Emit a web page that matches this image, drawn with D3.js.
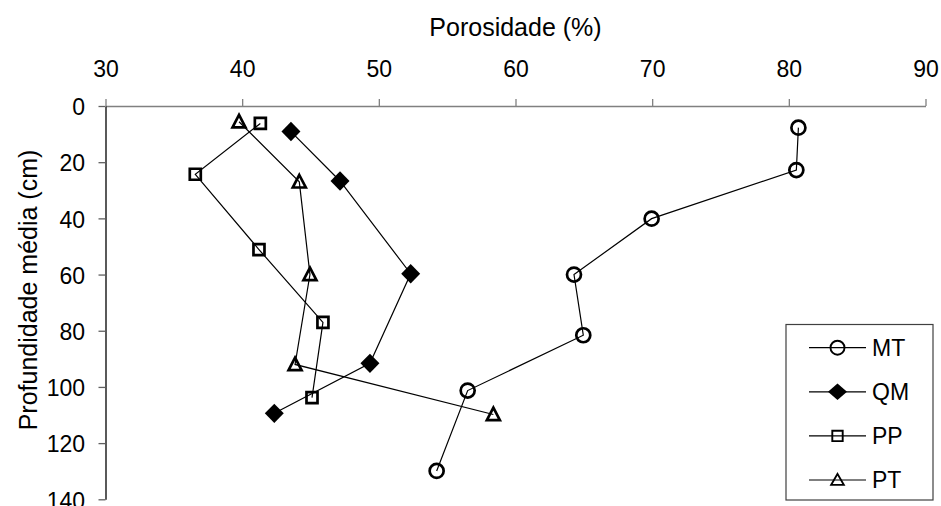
<!DOCTYPE html>
<html>
<head>
<meta charset="utf-8">
<script src="https://cdn.jsdelivr.net/npm/d3@7"></script>
<style>
  html, body { margin: 0; padding: 0; background: #fff; }
  svg { display: block; font-family: "Liberation Sans", Arial, sans-serif; }
</style>
</head>
<body>
<svg id="chart" width="941" height="506"></svg>
<script>
// Porosity (%) by mean depth (cm) for the four profiles
const seriesNames = ["MT", "QM", "PP", "PT"];

const porosityMT = [80.7, 80.55, 69.96, 64.28, 64.96, 56.5, 54.23];
const depthMT    = [7.7, 22.8, 40.1, 60.0, 81.6, 101.3, 129.9];

const porosityQM = [43.57, 47.16, 52.33, 49.35, 42.35];
const depthQM    = [9.1, 26.7, 59.7, 91.6, 109.4];

const porosityPP = [41.33, 36.57, 41.23, 45.91, 45.11];
const depthPP    = [6.2, 24.3, 51.1, 77.0, 103.8];

const porosityPT = [39.77, 44.18, 44.96, 43.87, 58.38];
const depthPT    = [5.6, 27.0, 60.0, 92.0, 109.8];

const xTicks = [30, 40, 50, 60, 70, 80, 90];
const yTicks = [0, 20, 40, 60, 80, 100, 120, 140];

const xTitle = "Porosidade (%)";
const yTitle = "Profundidade média (cm)";

const series = [
  { name: "MT", x: porosityMT, y: depthMT, shape: "circle" },
  { name: "QM", x: porosityQM, y: depthQM, shape: "diamond" },
  { name: "PP", x: porosityPP, y: depthPP, shape: "square" },
  { name: "PT", x: porosityPT, y: depthPT, shape: "triangle" }
];

const svg = d3.select("#chart");

const x = d3.scaleLinear().domain([30, 90]).range([105.5, 925.5]);
const y = d3.scaleLinear().domain([0, 140]).range([106, 499.3]);

// marker path generators (centered at 0,0)
function markerPath(shape, legend) {
  const p = d3.path();
  if (shape === "circle") {
    p.arc(0, 0, 7, 0, 2 * Math.PI);
  } else if (shape === "square") {
    const s = legend ? 5.2 : 5.5;
    p.rect(-s, -s, 2 * s, 2 * s);
  } else if (shape === "triangle") {
    const w = legend ? 6.3 : 6.5, h = legend ? 11 : 12.5;
    p.moveTo(0, -h / 2 - 0.6);
    p.lineTo(w, h / 2 - 0.6);
    p.lineTo(-w, h / 2 - 0.6);
    p.closePath();
  } else if (shape === "diamond") {
    const a = 9.5, b = legend ? 8.3 : 9.7;
    p.moveTo(0, -b);
    p.lineTo(a, 0);
    p.lineTo(0, b);
    p.lineTo(-a, 0);
    p.closePath();
  }
  return p.toString();
}

function styleMarker(sel, shape, legend) {
  if (shape === "diamond") {
    sel.attr("fill", "#000").attr("stroke", "none");
  } else {
    sel.attr("fill", "none").attr("stroke", "#000")
      .attr("stroke-width", legend ? 1.9 : 2.7)
      .attr("stroke-linejoin", "miter");
  }
}

// top axis
const xAxis = svg.append("g")
  .attr("transform", `translate(0,${y(0)})`)
  .call(d3.axisTop(x).tickValues(xTicks).tickSizeInner(7).tickSizeOuter(0).tickPadding(22.5));
xAxis.select(".domain").attr("stroke", "#808080").attr("stroke-width", 1.3);
xAxis.selectAll(".tick line").attr("stroke", "#808080").attr("stroke-width", 1.3);
xAxis.selectAll(".tick text")
  .attr("font-size", 23).attr("fill", "#000")
  .attr("font-family", "'Liberation Sans', Arial, sans-serif");

// left axis
const yAxis = svg.append("g")
  .attr("transform", `translate(${x(30)},0)`)
  .call(d3.axisLeft(y).tickValues(yTicks).tickSizeInner(7).tickSizeOuter(0).tickPadding(13.5));
yAxis.select(".domain").attr("stroke", "#000").attr("stroke-width", 1.3);
yAxis.selectAll(".tick line").attr("stroke", "#606060").attr("stroke-width", 1.3);
yAxis.selectAll(".tick text")
  .attr("font-size", 23).attr("fill", "#000").attr("dy", "0.38em")
  .attr("font-family", "'Liberation Sans', Arial, sans-serif");

// axis titles
svg.append("text")
  .attr("x", (x(30) + x(90)) / 2).attr("y", 36)
  .attr("text-anchor", "middle").attr("font-size", 25).attr("fill", "#000")
  .text(xTitle);

svg.append("text")
  .attr("transform", "translate(37,290) rotate(-90)")
  .attr("text-anchor", "middle").attr("font-size", 25).attr("fill", "#000")
  .text(yTitle);

// series lines then markers
const line = d3.line().x(d => x(d[0])).y(d => y(d[1]));

series.forEach(s => {
  const pts = s.x.map((v, i) => [v, s.y[i]]);
  svg.append("path")
    .datum(pts)
    .attr("d", line)
    .attr("fill", "none")
    .attr("stroke", "#000")
    .attr("stroke-width", 1.2);
});

series.forEach(s => {
  const pts = s.x.map((v, i) => [v, s.y[i]]);
  svg.append("g").selectAll("path")
    .data(pts)
    .join("path")
    .attr("transform", d => `translate(${x(d[0])},${y(d[1])})`)
    .attr("d", markerPath(s.shape, false))
    .call(sel => styleMarker(sel, s.shape, false));
});

// legend
const legend = svg.append("g");
legend.append("rect")
  .attr("x", 786).attr("y", 324.5).attr("width", 147).attr("height", 175.5)
  .attr("fill", "#fff").attr("stroke", "#404040").attr("stroke-width", 1.2);

const rowY = d3.scalePoint().domain(seriesNames).range([347.7, 480]);

series.forEach(s => {
  const g = legend.append("g").attr("transform", `translate(0,${rowY(s.name)})`);
  g.append("line")
    .attr("x1", 809).attr("x2", 866).attr("y1", 0).attr("y2", 0)
    .attr("stroke", "#000").attr("stroke-width", 1.2);
  g.append("path")
    .attr("transform", "translate(837.5,0)")
    .attr("d", markerPath(s.shape, true))
    .call(sel => styleMarker(sel, s.shape, true));
  g.append("text")
    .attr("x", 872).attr("y", 8.3)
    .attr("font-size", 23).attr("fill", "#000")
    .text(s.name);
});
</script>
</body>
</html>
